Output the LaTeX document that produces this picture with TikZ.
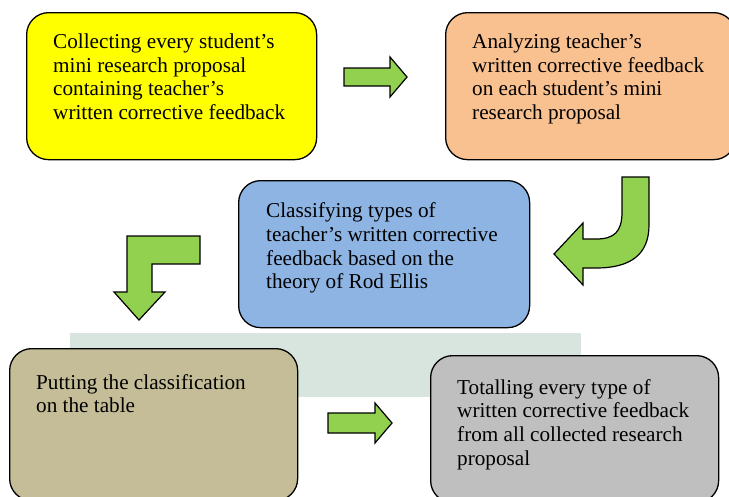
\documentclass[tikz,border=0pt]{standalone}
\usepackage{fontspec}
\setmainfont{Liberation Serif}
\usetikzlibrary{positioning}

\definecolor{stepyellow}{RGB}{255,255,0}
\definecolor{steporange}{RGB}{249,192,144}
\definecolor{stepblue}{RGB}{142,180,227}
\definecolor{stepkhaki}{RGB}{196,189,151}
\definecolor{stepgray}{RGB}{191,191,191}
\definecolor{arrowgreen}{RGB}{146,208,80}
\definecolor{wmark}{RGB}{216,229,223}

\tikzset{
  stepbox/.style={draw=black, line width=1.3pt, rounded corners=22pt,
    minimum width=290pt, minimum height=147pt, inner sep=0pt, anchor=north west},
  steptext/.style={inner sep=0pt, align=left,
    font=\fontsize{21.2}{23.7}\selectfont},
  blockarrow/.style={draw=black, line width=1.2pt, fill=arrowgreen, line join=miter}
}

\begin{document}
\begin{tikzpicture}[x=1pt,y=-1pt]
\useasboundingbox (0,0) rectangle (729,496);
\clip (0,0) rectangle (729,496);
% faint band behind the lower boxes
\fill[wmark] (70,333) rectangle (581,397);

% steps
\node[stepbox, fill=stepyellow] (collect) at (26,12) {};
\node[stepbox, fill=steporange] (analyze) at (445,12) {};
\node[stepbox, fill=stepblue, minimum width=291pt] (classify) at (238,180) {};
\node[stepbox, fill=stepkhaki, minimum width=288pt, minimum height=152pt] (put) at (9,348) {};
\node[stepbox, fill=stepgray, minimum width=288pt] (total) at (430,355) {};

% texts
\node[steptext, below right=21.5pt and 27pt of collect.north west, anchor=north west] (collecttxt)
  {Collecting every student’s\\mini research proposal\\containing teacher’s\\written corrective feedback};
\node[steptext, below right=21.5pt and 27pt of analyze.north west, anchor=north west] (analyzetxt)
  {Analyzing teacher’s\\written corrective feedback\\on each student’s mini\\research proposal};
\node[steptext, below right=22.5pt and 28pt of classify.north west, anchor=north west] (classifytxt)
  {Classifying types of\\teacher’s written corrective\\feedback based on the\\theory of Rod Ellis};
\node[steptext, below right=26pt and 27pt of put.north west, anchor=north west] (puttxt)
  {Putting the classification\\on the table};
\node[steptext, below right=24pt and 27pt of total.north west, anchor=north west] (totaltxt)
  {Totalling every type of\\written corrective feedback\\from all collected research\\proposal};

% arrows
\draw[blockarrow] (344,68) -- (390,68) -- (390,57) -- (407,77) -- (390,97) -- (390,86) -- (344,86) -- cycle;
\draw[blockarrow] (622,177) -- (649,177) -- (649,225)
  .. controls (649,255) and (630,268) .. (596,268) -- (583,268) -- (583,285) -- (554,254)
  -- (583,223) -- (583,239) -- (596,239) .. controls (614,239) and (622,232) .. (622,212) -- cycle;
\draw[blockarrow] (200,236) -- (127,236) -- (127,292) -- (114,292) -- (139,320) -- (165,292)
  -- (152,292) -- (152,264) -- (200,264) -- cycle;
\draw[blockarrow] (328,413) -- (375,413) -- (375,403) -- (392,423) -- (375,443) -- (375,433) -- (328,433) -- cycle;
\end{tikzpicture}
\end{document}
